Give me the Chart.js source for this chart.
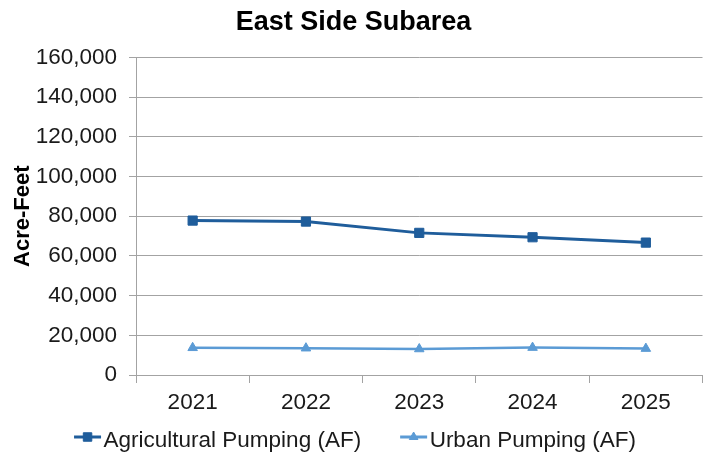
<!DOCTYPE html>
<html>
<head>
<meta charset="utf-8">
<title>East Side Subarea</title>
<script src="https://cdn.jsdelivr.net/npm/chart.js@4.4.0/dist/chart.umd.min.js"></script>
<style>
  html, body { margin: 0; padding: 0; background: #fff; overflow: hidden; }
  canvas { display: block; }
</style>
</head>
<body>
<canvas id="subareaChart" width="710" height="453"></canvas>
<script>
// values
var years = ['2021', '2022', '2023', '2024', '2025'];
var agriculturalPumping = [77800, 77300, 71600, 69400, 66700];
var urbanPumping = [13700, 13500, 13100, 13800, 13300];
var yTicks = [0, 20000, 40000, 60000, 80000, 100000, 120000, 140000, 160000];

var agColor = '#1f5d9b';
var urbanColor = '#5b9bd5';
var gridColor = '#a3a3a3';
var textColor = '#1a1a1a';
var fontFamily = '"Liberation Sans", Arial, sans-serif';

// Excel style legend: short line with the marker on it, then the label
var lineLegend = {
  id: 'lineLegend',
  afterDraw: function (chart) {
    var c = chart.ctx;
    var sets = chart.data.datasets;
    var lineLen = 27, textGap = 2.5, itemGap = 39;
    var lineY = 437, baseY = 446.5;
    c.save();
    c.font = '22.5px ' + fontFamily;
    var widths = sets.map(function (ds) { return c.measureText(ds.label).width; });
    var total = 0;
    widths.forEach(function (w, i) { total += lineLen + textGap + w + (i > 0 ? itemGap : 0); });
    var x = chart.width / 2 - total / 2;
    sets.forEach(function (ds, i) {
      c.strokeStyle = ds.borderColor;
      c.fillStyle = ds.borderColor;
      c.lineWidth = 3;
      c.beginPath();
      c.moveTo(x, lineY);
      c.lineTo(x + lineLen, lineY);
      c.stroke();
      c.lineWidth = 1;
      Chart.helpers.drawPoint(c, {
        pointStyle: ds.pointStyle,
        radius: ds.pointStyle === 'rect' ? 6 : 5,
        rotation: 0,
        borderWidth: 1
      }, x + lineLen / 2, lineY);
      c.fillStyle = textColor;
      c.textBaseline = 'alphabetic';
      c.textAlign = 'left';
      c.fillText(ds.label, x + lineLen + textGap, baseY);
      x += lineLen + textGap + widths[i] + itemGap;
    });
    c.restore();
  }
};

var ctx = document.getElementById('subareaChart').getContext('2d');
var chart = new Chart(ctx, {
  type: 'line',
  data: {
    labels: years,
    datasets: [{
      label: 'Agricultural Pumping (AF)',
      data: agriculturalPumping,
      borderColor: agColor,
      backgroundColor: agColor,
      borderWidth: 3,
      pointStyle: 'rect',
      pointRadius: 6.5,
      pointBorderWidth: 1,
      tension: 0,
      fill: false
    }, {
      label: 'Urban Pumping (AF)',
      data: urbanPumping,
      borderColor: urbanColor,
      backgroundColor: urbanColor,
      borderWidth: 2.5,
      pointStyle: 'triangle',
      pointRadius: 5.5,
      pointBorderWidth: 1,
      tension: 0,
      fill: false
    }]
  },
  plugins: [lineLegend],
  options: {
    responsive: false,
    animation: false,
    devicePixelRatio: 1,
    layout: { padding: { left: 0, right: 3, top: 0, bottom: 36 } },
    plugins: {
      tooltip: { enabled: false },
      legend: { display: false },
      title: {
        display: true,
        text: 'East Side Subarea',
        color: '#000',
        font: { family: fontFamily, size: 27, weight: 'bold' },
        padding: { top: 6, bottom: 19 }
      }
    },
    scales: {
      x: {
        offset: true,
        afterFit: function (scale) { scale.height = 42; },
        grid: {
          offset: true,
          drawOnChartArea: false,
          drawTicks: true,
          tickLength: 8,
          color: gridColor
        },
        border: { color: gridColor, width: 1 },
        ticks: {
          padding: 6,
          color: textColor,
          font: { family: fontFamily, size: 22.5 }
        }
      },
      y: {
        min: 0,
        max: 160000,
        afterFit: function (scale) { scale.width = 136; },
        afterBuildTicks: function (scale) {
          scale.ticks = yTicks.map(function (v) { return { value: v }; });
        },
        grid: {
          color: gridColor,
          lineWidth: 1,
          tickLength: 7
        },
        border: { color: gridColor, width: 1 },
        ticks: {
          padding: 12,
          color: textColor,
          font: { family: fontFamily, size: 22.5 },
          callback: function (value) { return value.toLocaleString('en-US'); }
        },
        title: {
          display: true,
          text: 'Acre-Feet',
          color: '#000',
          padding: { top: 10, bottom: 0 },
          font: { family: fontFamily, size: 22, weight: 'bold' }
        }
      }
    }
  }
});
</script>
</body>
</html>
